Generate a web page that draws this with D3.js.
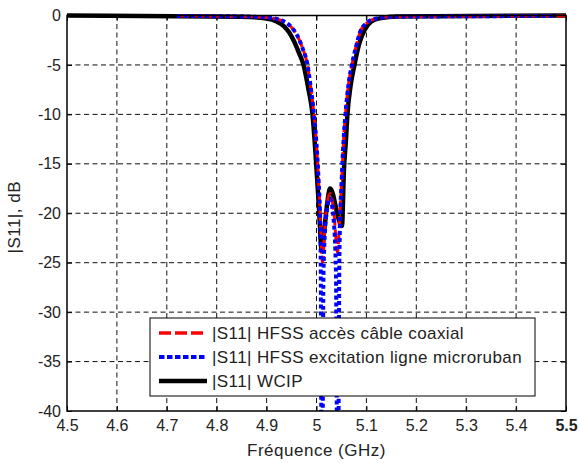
<!DOCTYPE html>
<html>
<head>
<meta charset="utf-8">
<script src="https://cdn.jsdelivr.net/npm/d3@7"></script>
<style>
  body { margin: 0; background: #fff; }
  svg { display: block; font-family: "Liberation Sans", Arial, sans-serif; }
</style>
</head>
<body>
<svg id="chart" width="580" height="463"></svg>
<script>
// frequency (GHz) / |S11| (dB)
const wcipF = [4.5, 4.85, 4.9, 4.92, 4.935, 4.945, 4.955, 4.965, 4.974, 4.984, 4.992, 4.996, 5.0, 5.005, 5.0105,
  5.016, 5.022, 5.027, 5.032, 5.038, 5.045, 5.051, 5.055, 5.059, 5.062, 5.068, 5.076, 5.086, 5.096, 5.11, 5.13, 5.16, 5.5];
const wcipDb = [0, -0.12, -0.3, -0.6, -1.1, -1.7, -2.6, -3.8, -5, -7.5, -10, -12.5, -15.5, -19.5, -23.8,
  -21.5, -18.8, -17.5, -17.9, -19.2, -20.7, -21.3, -15.6, -12.6, -10, -7.2, -5, -2.8, -1.5, -0.6, -0.25, -0.1, 0];

const coaxF = [4.72, 4.85, 4.9, 4.93, 4.95, 4.96, 4.972, 4.982, 4.989, 4.995, 5.0, 5.004, 5.008, 5.012,
  5.018, 5.027, 5.035, 5.042, 5.047, 5.051, 5.055, 5.058, 5.064, 5.071, 5.08, 5.088, 5.1, 5.12, 5.16, 5.5];
const coaxDb = [-0.05, -0.1, -0.2, -0.5, -1.2, -1.9, -3.3, -5, -7.5, -10, -13, -16.5, -21, -25,
  -20.5, -18, -20, -24, -20, -16, -12, -10, -7, -5, -3, -1.6, -0.8, -0.3, -0.12, -0.05];

const microF = [4.72, 4.85, 4.9, 4.93, 4.95, 4.96, 4.972, 4.982, 4.989, 4.995, 5.0, 5.004, 5.008, 5.011,
  5.014, 5.019, 5.027, 5.034, 5.039, 5.0425, 5.046, 5.051, 5.055, 5.058, 5.064, 5.071, 5.08, 5.088, 5.1, 5.12, 5.16, 5.48];
const microDb = [-0.05, -0.1, -0.2, -0.5, -1.2, -1.9, -3.3, -5, -7.5, -10, -13, -16.5, -22, -55,
  -26, -20.5, -18.5, -20.5, -26, -55, -24, -16, -12, -10, -7, -5, -3, -1.6, -0.8, -0.3, -0.12, -0.05];

const xTicks = [4.5, 4.6, 4.7, 4.8, 4.9, 5, 5.1, 5.2, 5.3, 5.4, 5.5];
const yTicks = [0, -5, -10, -15, -20, -25, -30, -35, -40];

const legendLabels = ["|S11| HFSS accès câble coaxial", "|S11| HFSS excitation ligne microruban", "|S11| WCIP"];

const svg = d3.select("#chart");
const pl = 67, pr = 566, pt = 15.5, pb = 411;

const x = d3.scaleLinear().domain([4.5, 5.5]).range([pl, pr]);
const y = d3.scaleLinear().domain([-40, 0]).range([pb, pt]);

svg.append("defs").append("clipPath").attr("id", "clip")
  .append("rect").attr("x", pl).attr("y", pt - 3).attr("width", pr - pl).attr("height", pb - pt + 3);

// grid
const grid = svg.append("g").attr("stroke", "#111").attr("stroke-width", 1).attr("stroke-dasharray", "5,3.5");
grid.selectAll(".gx").data(xTicks.slice(1, -1)).join("line")
  .attr("x1", d => x(d)).attr("x2", d => x(d)).attr("y1", pt).attr("y2", pb);
grid.selectAll(".gy").data(yTicks.slice(1, -1)).join("line")
  .attr("y1", d => y(d)).attr("y2", d => y(d)).attr("x1", pl).attr("x2", pr);

// axes with inward ticks
const fmt = d => String(d);
svg.append("g").attr("transform", `translate(0,${pb})`)
  .call(d3.axisBottom(x).tickValues(xTicks).tickFormat(fmt).tickSizeInner(-5).tickSizeOuter(0).tickPadding(9))
  .call(g => g.select(".domain").remove());
svg.append("g").attr("transform", `translate(0,${pt})`)
  .call(d3.axisTop(x).tickValues(xTicks).tickFormat("").tickSizeInner(-5).tickSizeOuter(0))
  .call(g => g.select(".domain").remove());
svg.append("g").attr("transform", `translate(${pl},0)`)
  .call(d3.axisLeft(y).tickValues(yTicks).tickFormat(fmt).tickSizeInner(-5).tickSizeOuter(0).tickPadding(6))
  .call(g => g.select(".domain").remove());
svg.append("g").attr("transform", `translate(${pr},0)`)
  .call(d3.axisRight(y).tickValues(yTicks).tickFormat("").tickSizeInner(-5).tickSizeOuter(0))
  .call(g => g.select(".domain").remove());

svg.selectAll(".tick text").attr("font-size", 16).attr("fill", "#222")
  .attr("font-family", "'Liberation Sans', Arial, sans-serif");
svg.selectAll(".tick text").filter(d => d === 5.5).attr("font-weight", "bold");

// curves
const line = d3.line().x(d => x(d[0])).y(d => y(d[1])).curve(d3.curveMonotoneX);
const curves = svg.append("g").attr("clip-path", "url(#clip)").attr("fill", "none");

curves.append("path").datum(d3.zip(wcipF, wcipDb)).attr("d", line)
  .attr("stroke", "#000").attr("stroke-width", 4.5).attr("stroke-linejoin", "round");
curves.append("path").datum(d3.zip(coaxF, coaxDb)).attr("d", line)
  .attr("stroke", "#ff0000").attr("stroke-width", 3).attr("stroke-dasharray", "12,4");
curves.append("path").datum(d3.zip(microF, microDb)).attr("d", line)
  .attr("stroke", "#0000ff").attr("stroke-width", 4).attr("stroke-dasharray", "4,3");

// frame
svg.append("rect").attr("x", pl).attr("y", pt).attr("width", pr - pl).attr("height", pb - pt)
  .attr("fill", "none").attr("stroke", "#000").attr("stroke-width", 1.5);

// legend
const leg = svg.append("g").attr("transform", "translate(150,318)");
leg.append("rect").attr("width", 385).attr("height", 78).attr("fill", "#fff").attr("stroke", "#000").attr("stroke-width", 1);
const legStyles = [
  { color: "#ff0000", width: 3.5, dash: "12,4" },
  { color: "#0000ff", width: 4, dash: "5.5,2.5" },
  { color: "#000", width: 4.5, dash: null }
];
const rows = leg.selectAll(".row").data(legendLabels).join("g")
  .attr("transform", (d, i) => `translate(0,${15 + i * 24})`);
rows.append("line").attr("x1", 9).attr("x2", 57)
  .attr("stroke", (d, i) => legStyles[i].color).attr("stroke-width", (d, i) => legStyles[i].width)
  .attr("stroke-dasharray", (d, i) => legStyles[i].dash);
rows.append("text").attr("x", 62).attr("dy", "0.36em").attr("font-size", 17)
  .attr("letter-spacing", 0.4).attr("fill", "#222")
  .text(d => d);

// axis titles
svg.append("text").attr("x", (pl + pr) / 2).attr("y", 456).attr("text-anchor", "middle")
  .attr("font-size", 17).attr("letter-spacing", 0.5).attr("fill", "#222").text("Fréquence (GHz)");
svg.append("text").attr("transform", `translate(20,${(pt + pb) / 2 + 4}) rotate(-90)`)
  .attr("text-anchor", "middle").attr("font-size", 17).attr("letter-spacing", 0.5).attr("fill", "#222").text("|S11|, dB");
</script>
</body>
</html>
